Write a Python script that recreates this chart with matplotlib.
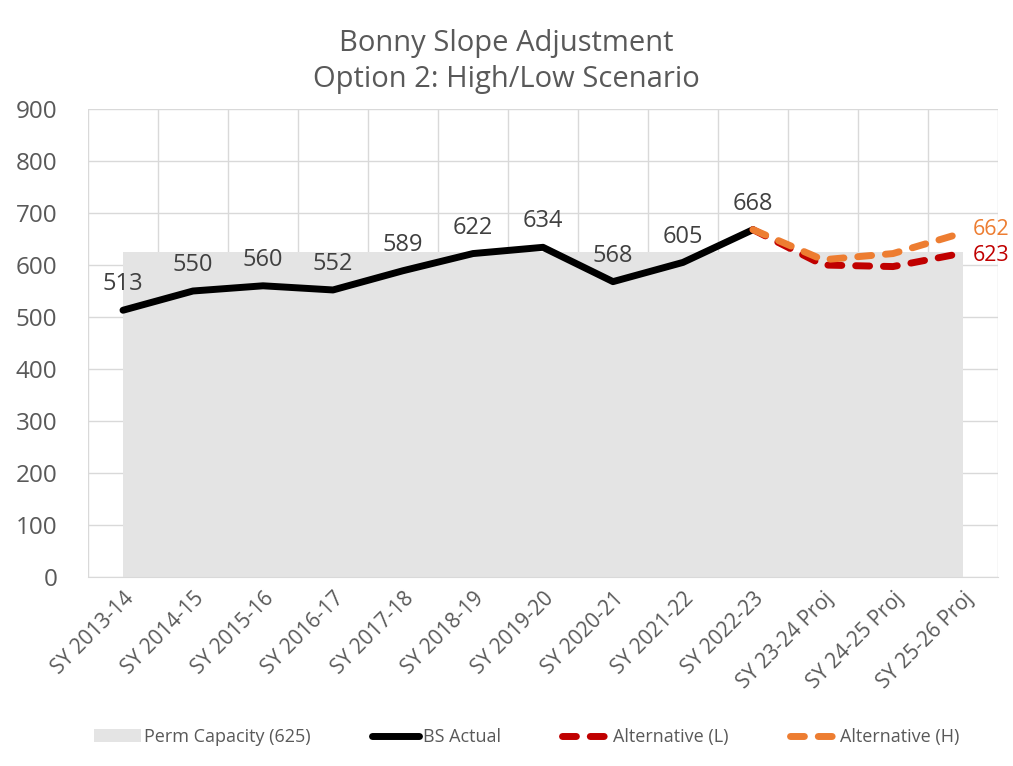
import matplotlib.pyplot as plt
import numpy as np

plt.rcParams['font.family'] = ['Open Sans', 'DejaVu Sans']

categories = ["SY 2013-14", "SY 2014-15", "SY 2015-16", "SY 2016-17", "SY 2017-18",
              "SY 2018-19", "SY 2019-20", "SY 2020-21", "SY 2021-22", "SY 2022-23",
              "SY 23-24 Proj", "SY 24-25 Proj", "SY 25-26 Proj"]
capacity = [625] * 13
actual = [513, 550, 560, 552, 589, 622, 634, 568, 605, 668]
alt_low = [668, 600, 597, 623]
alt_high = [668, 610, 622, 662]

text_col = '#595959'
grid_col = '#D9D9D9'

fig = plt.figure(figsize=(10.13, 7.66), dpi=100)
ax = fig.add_axes([88 / 1013, 1 - 577 / 766, 910 / 1013, 468 / 766])

x = np.arange(len(categories))
ax.fill_between(x, 0, capacity, color='#E4E4E4', lw=0, zorder=1, label='Perm Capacity (625)')
ax.plot(x[:10], actual, color='black', lw=5, solid_capstyle='round', zorder=3, label='BS Actual')
xp = x[9:]
dash = (0, (2.0, 2.0))
ax.plot(xp, alt_low, color='#C00000', lw=5, ls=dash, dash_capstyle='round',
        zorder=4, label='Alternative (L)')
ax.plot(xp, alt_high, color='#ED7D31', lw=5, ls=dash, dash_capstyle='round',
        zorder=5, label='Alternative (H)')

for xi, v in zip(x[:10], actual):
    ax.annotate(str(v), (xi, v), xytext=(0, 10), textcoords='offset points',
                ha='center', va='bottom', fontsize=17, color='#404040', zorder=6)
ax.annotate(str(alt_high[-1]), (xp[-1], alt_high[-1]), xytext=(7, 2), textcoords='offset points',
            ha='left', va='center', fontsize=15.5, color='#ED7D31', annotation_clip=False)
ax.annotate(str(alt_low[-1]), (xp[-1], alt_low[-1]), xytext=(7, -2), textcoords='offset points',
            ha='left', va='center', fontsize=15.5, color='#C00000', annotation_clip=False)

ax.set_xlim(-0.5, len(categories) - 0.5)
ax.set_ylim(0, 900)
ax.set_yticks(range(0, 1000, 100))
ax.set_xticks(x)
ax.set_xticklabels(categories, rotation=45, ha='right', rotation_mode='anchor')
ax.set_xticks(np.arange(-0.5, len(categories), 1), minor=True)
ax.grid(True, which='minor', axis='x', color=grid_col, lw=1, zorder=0)
ax.grid(True, which='major', axis='y', color=grid_col, lw=1, zorder=0)
ax.set_axisbelow(True)
ax.tick_params(axis='both', which='both', length=0, colors=text_col)
ax.tick_params(axis='y', labelsize=17.5, pad=22)
ax.tick_params(axis='x', labelsize=15, pad=8)
for s in ['top', 'right', 'left']:
    ax.spines[s].set_visible(False)
ax.spines['bottom'].set_color(grid_col)

fig.suptitle("Bonny Slope Adjustment\nOption 2: High/Low Scenario", y=0.962,
             fontsize=21, color=text_col, linespacing=1.3)

leg = fig.legend(loc='center', bbox_to_anchor=(0.52, 1 - 737 / 766), ncol=4,
                 frameon=False, fontsize=13, handlelength=2.6, handletextpad=0.2,
                 columnspacing=3.4, labelcolor=text_col)

fig.savefig('out.png', dpi=100)
